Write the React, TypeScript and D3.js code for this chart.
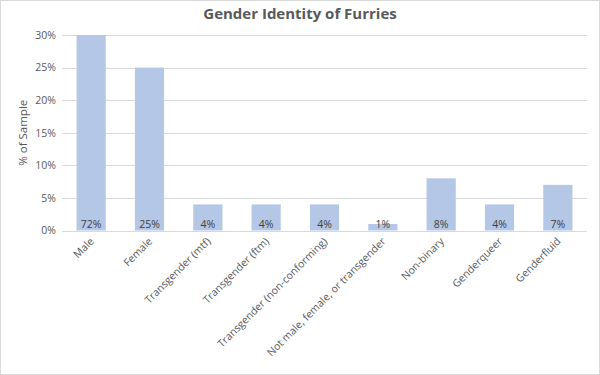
import React from "react";
import * as d3 from "d3";

const categories = [
  "Male",
  "Female",
  "Transgender (mtf)",
  "Transgender (ftm)",
  "Transgender (non-conforming)",
  "Not male, female, or transgender",
  "Non-binary",
  "Genderqueer",
  "Genderfluid",
];
const values = [72, 25, 4, 4, 4, 1, 8, 4, 7];
const yTicks = [0, 5, 10, 15, 20, 25, 30];
const title = "Gender Identity of Furries";
const yTitle = "% of Sample";

const W = 600;
const H = 375;
const left = 62;
const right = 587;
const top = 35;
const bottom = 230.5;
const font = "'Open Sans', 'Segoe UI', sans-serif";

export default function App() {
  const x = d3.scaleBand<string>().domain(categories).range([left, right]).paddingInner(0.5).paddingOuter(0.25);
  const y = d3.scaleLinear().domain([0, 30]).range([bottom, top]).clamp(true);
  const bw = x.bandwidth();
  return (
    <>
      <style>{`body{margin:0}`}</style>
      <svg width={W} height={H} style={{ display: "block", fontFamily: font }}>
        <rect x={0.5} y={0.5} width={W - 1} height={H - 1} fill="#fff" stroke="#D9D9D9" />
        <text x={300} y={18.5} textAnchor="middle" fontSize={15} fontWeight="bold" fill="#595959">
          {title}
        </text>
        {yTicks.map((t) => (
          <g key={t}>
            <line x1={left} x2={right} y1={Math.round(y(t)) + 0.5} y2={Math.round(y(t)) + 0.5} stroke="#D9D9D9" strokeWidth={1} />
            <text x={56} y={y(t) + 3.8} textAnchor="end" fontSize={10.5} fill="#595959">
              {t}%
            </text>
          </g>
        ))}
        <text
          transform={`translate(27,${(top + bottom) / 2}) rotate(-90)`}
          textAnchor="middle"
          fontSize={11.5}
          fill="#595959"
        >
          {yTitle}
        </text>
        {categories.map((c, i) => {
          const x0 = x(c)!;
          const cx = x0 + bw / 2;
          return (
            <g key={c}>
              <rect x={x0} y={y(values[i])} width={bw} height={bottom - y(values[i])} fill="#B4C7E7" />
              <text x={cx} y={227.5} textAnchor="middle" fontSize={10.5} fill="#404040">
                {values[i]}%
              </text>
              <text
                transform={`translate(${cx + 3.5},${242}) rotate(-45)`}
                textAnchor="end"
                fontSize={10.5}
                fill="#595959"
              >
                {c}
              </text>
            </g>
          );
        })}
      </svg>
    </>
  );
}
